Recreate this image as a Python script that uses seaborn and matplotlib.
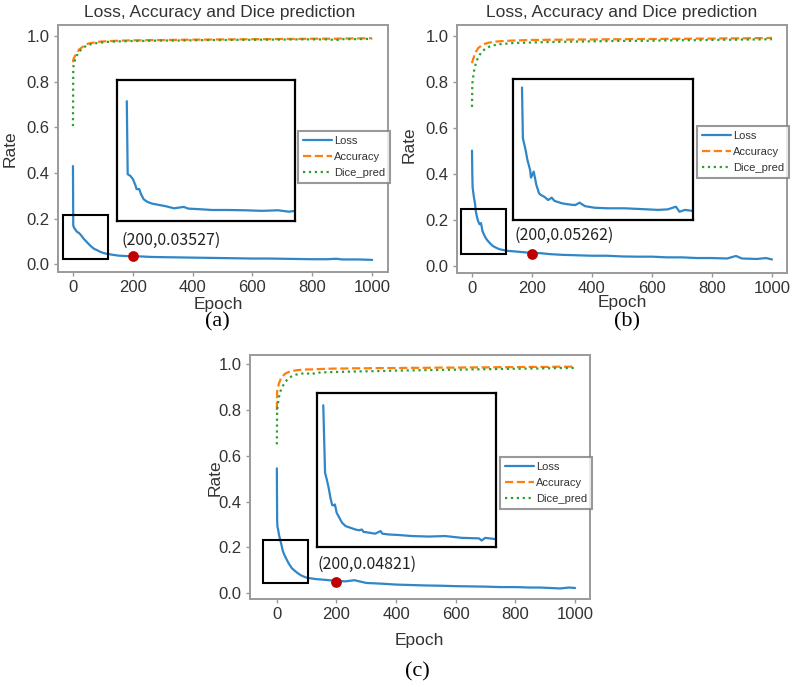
import numpy as np
import pandas as pd
import matplotlib
matplotlib.use('Agg')
import matplotlib.pyplot as plt
import seaborn as sns
from matplotlib.patches import Rectangle

sns.set_theme(style='white')
plt.rcParams['font.family'] = ['Liberation Sans', 'DejaVu Sans']

# common epoch grid
epochs = [0, 1, 2, 4, 6, 8, 10, 13, 16, 20, 25, 30, 35, 40, 45, 50, 60, 70, 80, 90,
          100, 115, 130, 150, 175, 200, 230, 260, 300, 350, 400, 450, 500, 550, 600,
          650, 700, 750, 800, 850, 880, 900, 950, 980, 1000]

# panel (a)
a_loss = [0.43, 0.17, 0.165, 0.16, 0.155, 0.152, 0.148, 0.143, 0.14, 0.137, 0.13, 0.122,
          0.113, 0.106, 0.099, 0.092, 0.079, 0.068, 0.062, 0.055, 0.05, 0.045, 0.042,
          0.038, 0.036, 0.035, 0.034, 0.032, 0.031, 0.03, 0.029, 0.028, 0.027, 0.026,
          0.025, 0.025, 0.024, 0.023, 0.022, 0.022, 0.024, 0.021, 0.021, 0.02, 0.019]
a_acc = [0.885, 0.895, 0.90, 0.905, 0.91, 0.915, 0.92, 0.925, 0.93, 0.94, 0.945, 0.95,
         0.955, 0.96, 0.963, 0.966, 0.969, 0.971, 0.973, 0.975, 0.976, 0.977, 0.978,
         0.979, 0.98, 0.981, 0.981, 0.982, 0.982, 0.983, 0.984, 0.984, 0.985, 0.985,
         0.986, 0.986, 0.987, 0.987, 0.988, 0.988, 0.988, 0.989, 0.989, 0.99, 0.99]
a_dice = [0.605, 0.86, 0.87, 0.88, 0.89, 0.9, 0.905, 0.915, 0.92, 0.93, 0.937, 0.943,
          0.948, 0.953, 0.957, 0.96, 0.964, 0.967, 0.969, 0.971, 0.972, 0.974, 0.975,
          0.976, 0.977, 0.978, 0.978, 0.979, 0.98, 0.98, 0.981, 0.982, 0.982, 0.983,
          0.983, 0.984, 0.984, 0.985, 0.985, 0.985, 0.982, 0.986, 0.986, 0.987, 0.987]

# panel (b)
b_loss = [0.50, 0.40, 0.34, 0.32, 0.30, 0.285, 0.27, 0.235, 0.215, 0.195, 0.18, 0.185,
          0.15, 0.135, 0.122, 0.112, 0.097, 0.085, 0.078, 0.072, 0.069, 0.065, 0.063,
          0.061, 0.058, 0.055, 0.054, 0.05, 0.047, 0.045, 0.043, 0.043, 0.04, 0.039,
          0.039, 0.036, 0.036, 0.033, 0.033, 0.031, 0.042, 0.031, 0.029, 0.033, 0.027]
b_acc = [0.88, 0.885, 0.89, 0.90, 0.905, 0.915, 0.92, 0.93, 0.935, 0.945, 0.95, 0.955,
         0.96, 0.963, 0.965, 0.967, 0.97, 0.972, 0.974, 0.975, 0.976, 0.977, 0.978,
         0.979, 0.98, 0.981, 0.981, 0.982, 0.982, 0.983, 0.983, 0.984, 0.984, 0.985,
         0.985, 0.986, 0.986, 0.987, 0.987, 0.988, 0.988, 0.988, 0.989, 0.989, 0.99]
b_dice = [0.69, 0.79, 0.80, 0.82, 0.84, 0.855, 0.865, 0.88, 0.89, 0.905, 0.915, 0.925,
          0.932, 0.938, 0.943, 0.947, 0.953, 0.957, 0.96, 0.962, 0.964, 0.965, 0.967,
          0.968, 0.969, 0.97, 0.971, 0.972, 0.973, 0.974, 0.975, 0.976, 0.977, 0.977,
          0.978, 0.979, 0.98, 0.98, 0.981, 0.982, 0.982, 0.983, 0.983, 0.984, 0.984]

# panel (c)
c_loss = [0.545, 0.32, 0.29, 0.28, 0.265, 0.25, 0.24, 0.225, 0.208, 0.185, 0.168, 0.155,
          0.142, 0.13, 0.12, 0.11, 0.098, 0.088, 0.079, 0.073, 0.068, 0.065, 0.062,
          0.06, 0.057, 0.054, 0.052, 0.057, 0.045, 0.042, 0.038, 0.036, 0.034, 0.033,
          0.031, 0.03, 0.029, 0.027, 0.027, 0.025, 0.025, 0.024, 0.021, 0.025, 0.023]
c_acc = [0.80, 0.88, 0.89, 0.90, 0.91, 0.92, 0.925, 0.935, 0.94, 0.948, 0.955, 0.96,
         0.963, 0.966, 0.968, 0.97, 0.972, 0.974, 0.975, 0.976, 0.977, 0.977, 0.978,
         0.979, 0.98, 0.981, 0.981, 0.982, 0.982, 0.983, 0.983, 0.984, 0.984, 0.985,
         0.985, 0.986, 0.986, 0.987, 0.987, 0.988, 0.988, 0.988, 0.989, 0.989, 0.99]
c_dice = [0.65, 0.80, 0.81, 0.83, 0.85, 0.86, 0.87, 0.885, 0.895, 0.905, 0.915, 0.925,
          0.932, 0.938, 0.943, 0.947, 0.953, 0.956, 0.958, 0.96, 0.961, 0.955, 0.962,
          0.964, 0.965, 0.966, 0.967, 0.968, 0.969, 0.97, 0.972, 0.973, 0.974, 0.975,
          0.976, 0.977, 0.978, 0.979, 0.98, 0.981, 0.981, 0.982, 0.983, 0.983, 0.984]

# zoomed loss curves shown in the insets
a_zoom_epoch = [1, 2, 5, 8, 11, 12, 15, 17, 20, 24, 29, 37, 44, 54, 65, 70, 82, 97, 115,
                134, 153, 171, 183, 190]
a_zoom_loss = [0.425, 0.166, 0.160, 0.148, 0.124, 0.113, 0.113, 0.095, 0.077, 0.068,
               0.062, 0.057, 0.053, 0.045, 0.050, 0.044, 0.042, 0.039, 0.039, 0.038,
               0.036, 0.038, 0.033, 0.036]
b_zoom_epoch = [0, 1, 4, 6, 9, 10, 13, 16, 19, 21, 25, 29, 33, 36, 44, 51, 59, 64, 70,
                81, 96, 114, 133, 151, 162, 171, 175, 181, 190]
b_zoom_loss = [0.498, 0.307, 0.263, 0.226, 0.188, 0.159, 0.182, 0.131, 0.100, 0.094,
               0.087, 0.075, 0.084, 0.072, 0.063, 0.059, 0.056, 0.065, 0.052, 0.046,
               0.044, 0.044, 0.041, 0.038, 0.040, 0.050, 0.031, 0.038, 0.034]
c_zoom_epoch = [0, 2, 4, 6, 8, 10, 12, 13, 15, 18, 21, 25, 30, 36, 40, 43, 45, 51, 58,
                64, 66, 73, 84, 99, 118, 136, 155, 174, 177, 181, 193]
c_zoom_loss = [0.543, 0.284, 0.258, 0.227, 0.189, 0.160, 0.160, 0.163, 0.131, 0.112,
               0.093, 0.080, 0.074, 0.067, 0.064, 0.067, 0.058, 0.055, 0.051, 0.061,
               0.051, 0.048, 0.046, 0.042, 0.040, 0.042, 0.035, 0.033, 0.025, 0.035,
               0.030]

dot_epoch = 200
dot_values = [0.03527, 0.05262, 0.04821]
dot_labels = ['(200,0.03527)', '(200,0.05262)', '(200,0.04821)']

W, H = 796, 687
BLUE, ORANGE, GREEN = '#2f86c8', '#ff7f0e', '#2ca02c'


def px_rect(x0, y0, x1, y1):
    return [x0 / W, 1 - y1 / H, (x1 - x0) / W, (y1 - y0) / H]


def draw_panel(fig, ax_px, inset_px, leg_px, xlim, ylim, loss, acc, dice,
               z_epoch, z_loss, z_xlim, z_ylim, box, dot_val, label, text_xy):
    ax = fig.add_axes(px_rect(*ax_px))
    ax.set_facecolor('white')
    sns.lineplot(x=epochs, y=loss, ax=ax, color=BLUE, lw=1.6, label='Loss')
    sns.lineplot(x=epochs, y=acc, ax=ax, color=ORANGE, lw=1.6, linestyle='--',
                 label='Accuracy')
    sns.lineplot(x=epochs, y=dice, ax=ax, color=GREEN, lw=1.6, linestyle=':',
                 label='Dice_pred')
    ax.set_xlim(*xlim)
    ax.set_ylim(*ylim)
    ax.set_xticks([0, 200, 400, 600, 800, 1000])
    ax.set_yticks([0.0, 0.2, 0.4, 0.6, 0.8, 1.0])
    ax.set_yticklabels(['0.0', '0.2', '0.4', '0.6', '0.8', '1.0'])
    ax.tick_params(labelsize=12, labelcolor='#333333', length=3, width=1,
                   color='#999999', pad=3, left=True, bottom=True)
    for s in ax.spines.values():
        s.set_color('#9a9a9a')
        s.set_linewidth(1.4)
    ax.set_xlabel('')
    ax.set_ylabel('')

    # zoom box
    ax.add_patch(Rectangle((box[0], box[1]), box[2] - box[0], box[3] - box[1],
                           fill=False, edgecolor='black', lw=1.5, zorder=5))
    # marked point
    ax.scatter([dot_epoch], [dot_val], s=60, color='#c00000', zorder=6, linewidths=0)
    ax.text(text_xy[0], text_xy[1], label, ha='left', va='center', fontsize=11.5,
            color='#222222', family=['Noto Sans CJK SC', 'DejaVu Sans'],
            weight='medium')

    leg = ax.legend(loc='upper left', bbox_to_anchor=(leg_px[0] / W, 1 - leg_px[1] / H),
                    bbox_transform=fig.transFigure, borderaxespad=0, fontsize=8,
                    frameon=True, fancybox=False, handlelength=2.6,
                    handletextpad=0.2, labelspacing=0.55, borderpad=0.45)
    leg.get_frame().set_edgecolor('#808080')
    leg.get_frame().set_linewidth(1.5)
    for t in leg.get_texts():
        t.set_color('#333333')

    ins = fig.add_axes(px_rect(*inset_px))
    ins.set_facecolor('white')
    sns.lineplot(x=z_epoch, y=z_loss, ax=ins, color=BLUE, lw=1.6)
    ins.set_xlim(*z_xlim)
    ins.set_ylim(*z_ylim)
    ins.set_xticks([])
    ins.set_yticks([])
    ins.set_xlabel('')
    ins.set_ylabel('')
    for s in ins.spines.values():
        s.set_color('black')
        s.set_linewidth(1.6)
    return ax


fig = plt.figure(figsize=(W / 100, H / 100), dpi=100)

draw_panel(fig, (58, 25, 388, 272), (117, 80, 295, 221), (298, 131),
           (-50, 1053), (-0.034, 1.048), a_loss, a_acc, a_dice,
           a_zoom_epoch, a_zoom_loss, (-10, 190), (0, 0.5),
           (-33, 0.025, 117, 0.215), dot_values[0], dot_labels[0], (163, 0.103))
draw_panel(fig, (457, 25, 787, 273), (513, 79, 693, 220), (697, 126),
           (-50, 1050), (-0.032, 1.046), b_loss, b_acc, b_dice,
           b_zoom_epoch, b_zoom_loss, (-10, 190), (0, 0.53),
           (-37, 0.05, 113, 0.245), dot_values[1], dot_labels[1], (141, 0.133))
draw_panel(fig, (250, 355, 590, 599), (317, 393, 496, 547), (500, 457),
           (-90, 1050), (-0.025, 1.04), c_loss, c_acc, c_dice,
           c_zoom_epoch, c_zoom_loss, (-7, 193), (0, 0.59),
           (-47, 0.045, 104, 0.232), dot_values[2], dot_labels[2], (137, 0.128))

# titles, axis labels, captions
fig.text(220 / W, 1 - 13 / H, 'Loss, Accuracy and Dice prediction', ha='center',
         va='center', fontsize=12.5, color='#333333')
fig.text(622 / W, 1 - 12 / H, 'Loss, Accuracy and Dice prediction', ha='center',
         va='center', fontsize=12.5, color='#333333')
for x, y in [(10, 149), (409, 145), (215, 478)]:
    fig.text(x / W, 1 - y / H, 'Rate', rotation=90, ha='center', va='center',
             fontsize=12.5, color='#333333')
for x, y in [(218, 304), (622, 303), (419, 640)]:
    fig.text(x / W, 1 - y / H, 'Epoch', ha='center', va='center', fontsize=12.5,
             color='#333333')
for x, y, s in [(217, 322, '(a)'), (627, 322, '(b)'), (417, 672, '(c)')]:
    fig.text(x / W, 1 - y / H, s, ha='center', va='center', fontsize=16,
             family='Liberation Serif', color='black')

fig.savefig('out.png', dpi=100)
